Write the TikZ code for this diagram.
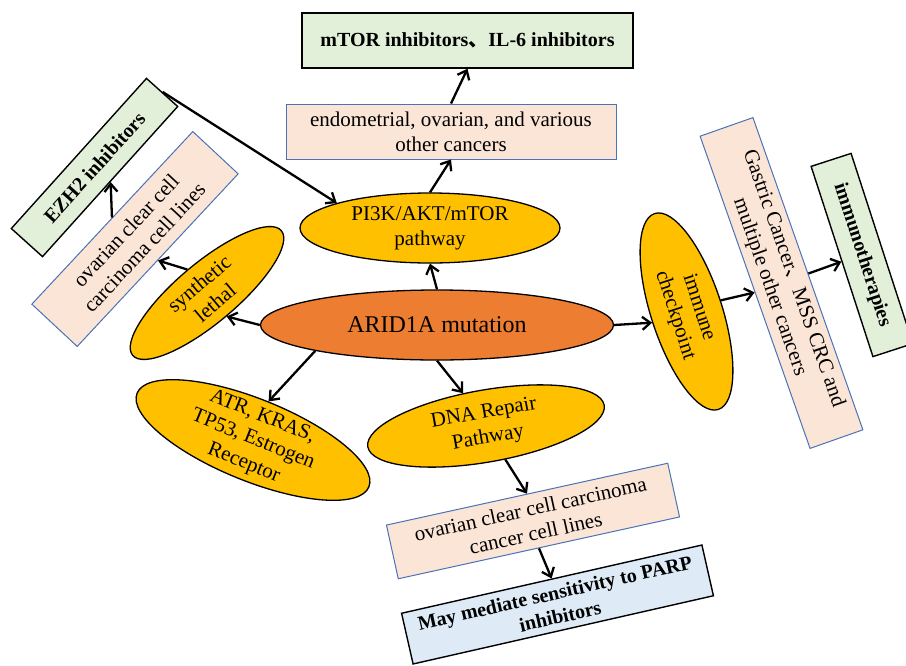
\documentclass[tikz,border=0pt]{standalone}
\usepackage{fontspec}
\setmainfont{Liberation Serif}
\newfontfamily\cjk{Noto Sans CJK SC}
\usetikzlibrary{shapes.geometric,arrows.meta}
\definecolor{peach}{HTML}{FBE5D6}
\definecolor{pgreen}{HTML}{E2F0D9}
\definecolor{pblue}{HTML}{DEEBF7}
\definecolor{gold}{HTML}{FFC000}
\definecolor{orng}{HTML}{ED7D31}
\definecolor{bordblue}{HTML}{4A72B8}
\tikzset{
  txt/.style={font=\fontsize{21}{25}\selectfont, align=center},
  btxt/.style={font=\bfseries\fontsize{20}{24}\selectfont, align=center},
  pinkbox/.style={txt, draw=bordblue, line width=1pt, fill=peach, inner sep=2pt},
  greenbox/.style={btxt, draw=black, line width=1.4pt, fill=pgreen, inner sep=2pt},
  bluebox/.style={btxt, draw=black, line width=1.4pt, fill=pblue, inner sep=2pt},
  yell/.style={txt, ellipse, draw=black, line width=1.3pt, fill=gold, inner sep=-20pt},
  arr/.style={line width=2.3pt, -{Straight Barb[length=8pt,width=13pt,line width=2.3pt]}}
}
\begin{document}
\begin{tikzpicture}[x=1pt,y=-1pt]
\useasboundingbox (0,0) rectangle (906,665);

% top chain
\node[greenbox, minimum width=331pt, minimum height=55pt] (mtor) at (467.5,40.5)
  {mTOR inhibitors{\cjk 、}IL-6 inhibitors};
\node[pinkbox, minimum width=330pt, minimum height=55pt] (endo) at (451,131.5)
  {endometrial, ovarian, and various\\other cancers};
\node[yell, minimum width=260pt, minimum height=70pt] (pi3k) at (430,228)
  {PI3K/AKT/mTOR\\pathway};

% centre
\node[yell, fill=orng, minimum width=353pt, minimum height=70pt,
  font=\fontsize{24}{28}\selectfont] (arid) at (437,325) {ARID1A mutation};

% left branch
\node[yell, minimum width=194pt, minimum height=60pt, rotate=40] (sl) at (207,293)
  {synthetic\\lethal};
\node[pinkbox, minimum width=236pt, minimum height=62pt, rotate=47] (ovc) at (135,239)
  {ovarian clear cell\\carcinoma cell lines};
\node[greenbox, minimum width=202pt, minimum height=42pt, rotate=48] (ezh) at (94.5,167.5)
  {EZH2 inhibitors};

% lower branches
\node[yell, minimum width=250pt, minimum height=82pt, rotate=-22] (atr) at (253,440)
  {ATR, KRAS,\\TP53, Estrogen\\Receptor};
\node[yell, minimum width=240pt, minimum height=72pt, rotate=10] (dna) at (486,426)
  {DNA Repair\\Pathway};
\node[pinkbox, minimum width=288pt, minimum height=55pt, rotate=12.4] (ovc2) at (533,521)
  {ovarian clear cell carcinoma\\cancer cell lines};
\node[bluebox, minimum width=308pt, minimum height=52pt, rotate=12.8] (parp) at (557.5,604.5)
  {May mediate sensitivity to PARP\\inhibitors};

% right branch
\node[yell, minimum width=206pt, minimum height=71pt, rotate=-72] (imm) at (686.5,311.5)
  {immune\\checkpoint};
\node[pinkbox, minimum width=331pt, minimum height=56pt, rotate=-70.6] (gas) at (781.5,283)
  {Gastric Cancer{\cjk 、}MSS CRC and\\multiple other cancers};
\node[greenbox, minimum width=200pt, minimum height=42pt, rotate=-72] (immt) at (862,255)
  {immunotherapies};

% connectors
\draw[arr] (ezh.east) -- (pi3k.165);
\draw[arr] (pi3k.north) -- (endo.south);
\draw[arr] (endo.north) -- (mtor.south);
\draw[arr] (arid.north) -- (pi3k.south);
\draw[arr] (arid.west) -- (sl.south);
\draw[arr] (sl.north) -- (ovc.south);
\draw[arr] (ovc.north) -- (ezh.south);
\draw[arr] (arid.192) -- (atr.north);
\draw[arr] (arid.south) -- (dna.115);
\draw[arr] (dna.-70) -- (ovc2.north);
\draw[arr] (ovc2.south) -- (parp.north);
\draw[arr] (arid.east) -- (imm.south);
\draw[arr] (imm.north) -- (gas.south);
\draw[arr] (gas.north) -- (immt.south);
\end{tikzpicture}
\end{document}
